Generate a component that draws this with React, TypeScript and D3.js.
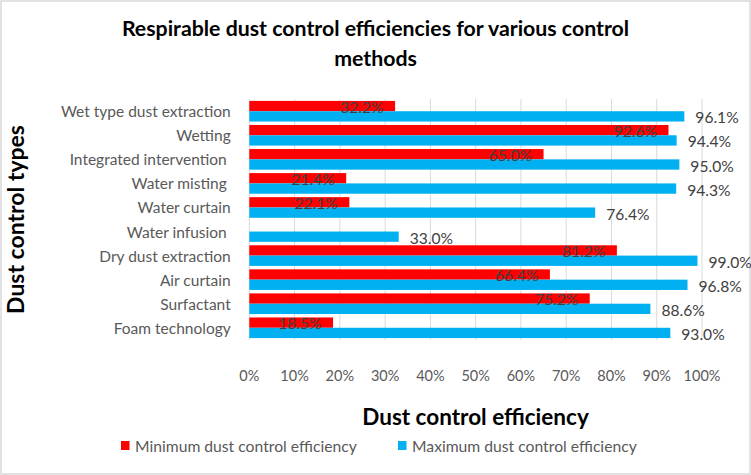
import React, { useEffect } from "react";
import * as d3 from "d3";

const categories = [
  "Wet type dust extraction",
  "Wetting",
  "Integrated intervention ",
  "Water misting ",
  "Water curtain",
  "Water infusion ",
  "Dry dust extraction",
  "Air curtain",
  "Surfactant",
  "Foam technology",
];
const minValues: (number | null)[] = [32.2, 92.6, 65.0, 21.4, 22.1, null, 81.2, 66.4, 75.2, 18.5];
const maxValues: number[] = [96.1, 94.4, 95.0, 94.3, 76.4, 33.0, 99.0, 96.8, 88.6, 93.0];
const xTicks = [0, 10, 20, 30, 40, 50, 60, 70, 80, 90, 100];
const seriesNames = ["Minimum dust control efficiency", "Maximum dust control efficiency"];
const seriesColors = ["#FF0000", "#00B0F0"];

const W = 751;
const H = 475;
const FONT = "Lato, 'Open Sans', sans-serif";

export default function App() {
  useEffect(() => {
    document.body.style.margin = "0";
  }, []);

  const x = d3.scaleLinear().domain([0, 100]).range([249.3, 702]);
  const y = d3
    .scaleBand<string>()
    .domain(categories)
    .range([99.2, 339.8])
    .paddingInner(0.143)
    .paddingOuter(0.0715);
  const inner = d3.scaleBand<number>().domain([0, 1]).range([0, y.bandwidth()]);

  const gridTop = 99.2;
  const gridBottom = 339.8;

  return (
    <svg width={W} height={H} style={{ display: "block", fontFamily: FONT }}>
      <rect x={0} y={0} width={W} height={H} fill="#fff" />
      <rect x={1} y={1} width={W - 2} height={H - 2} fill="none" stroke="#D9D9D9" strokeWidth={1.5} />

      {/* Title */}
      <text x={375.5} y={36} textAnchor="middle" fontSize={21.3} fontWeight="bold" fill="#000">
        Respirable dust control efficiencies for various control
      </text>
      <text x={375.5} y={66} textAnchor="middle" fontSize={21.3} fontWeight="bold" fill="#000">
        methods
      </text>

      {/* Gridlines */}
      {xTicks.map((t) => (
        <line key={t} x1={x(t)} x2={x(t)} y1={gridTop} y2={gridBottom} stroke="#D9D9D9" strokeWidth={1} />
      ))}

      {/* Bars */}
      {categories.map((c, i) => {
        const y0 = y(c)!;
        const mn = minValues[i];
        const mx = maxValues[i];
        return (
          <g key={c}>
            {mn !== null && (
              <rect x={x(0)} y={y0 + inner(0)!} width={x(mn) - x(0)} height={inner.bandwidth()} fill={seriesColors[0]} />
            )}
            <rect x={x(0)} y={y0 + inner(1)!} width={x(mx) - x(0)} height={inner.bandwidth()} fill={seriesColors[1]} />
          </g>
        );
      })}

      {/* Data labels */}
      {categories.map((c, i) => {
        const y0 = y(c)!;
        const mn = minValues[i];
        const mx = maxValues[i];
        return (
          <g key={"l" + c} fontSize={15.6} fill="#404040">
            {mn !== null && (
              <text x={x(mn) - 11.5} y={y0 + inner(0)! + inner.bandwidth() / 2 + 0.5} textAnchor="end" dominantBaseline="central">
                {mn.toFixed(1)}%
              </text>
            )}
            <text x={x(mx) + 11} y={y0 + inner(1)! + inner.bandwidth() / 2 + 1} textAnchor="start" dominantBaseline="central">
              {mx.toFixed(1)}%
            </text>
          </g>
        );
      })}

      {/* Category labels */}
      {categories.map((c) => (
        <text
          key={"c" + c}
          x={230.7}
          y={y(c)! + y.bandwidth() / 2}
          textAnchor="end"
          dominantBaseline="central"
          fontSize={15.5}
          fill="#595959"
          style={{ whiteSpace: "pre" }}
        >
          {c}
        </text>
      ))}

      {/* X tick labels */}
      {xTicks.map((t) => (
        <text key={"t" + t} x={x(t)} y={375} textAnchor="middle" dominantBaseline="central" fontSize={14.5} fill="#595959">
          {t}%
        </text>
      ))}

      {/* Axis titles */}
      <text x={475.5} y={416} textAnchor="middle" dominantBaseline="central" fontSize={22.5} fontWeight="bold" fill="#000">
        Dust control efficiency
      </text>
      <text
        transform={`translate(15,${(gridTop + gridBottom) / 2}) rotate(-90)`}
        textAnchor="middle"
        dominantBaseline="central"
        fontSize={23}
        fontWeight="bold"
        fill="#000"
      >
        Dust control types
      </text>

      {/* Legend */}
      {seriesNames.map((n, i) => {
        const lx = i === 0 ? 121 : 398;
        return (
          <g key={n}>
            <rect x={lx} y={441} width={8.5} height={9} fill={seriesColors[i]} />
            <text x={lx + 14} y={446} dominantBaseline="central" fontSize={15.7} fill="#595959">
              {n}
            </text>
          </g>
        );
      })}
    </svg>
  );
}
